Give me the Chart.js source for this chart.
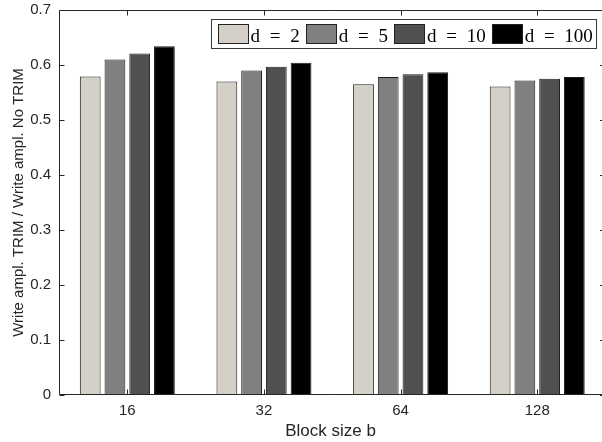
<!DOCTYPE html>
<html lang="en">
  <head>
    <script src="https://cdn.jsdelivr.net/npm/chart.js"></script>
    <meta charset="UTF-8" />
    <title>Write amplification TRIM / No TRIM</title>
    <style>
      body {
        margin: 0;
        background: #fff;
      }
      canvas {
        display: block;
      }
    </style>
  </head>
  <body>
    <canvas id="chart" width="602" height="442"></canvas>

    <script>
      // block sizes on the x axis
      const categories = ['16', '32', '64', '128'];
      const seriesLabels = ['d = 2', 'd = 5', 'd = 10', 'd = 100'];

      // ratio of write amplification, one array per d
      const d2 = [0.579, 0.570, 0.565, 0.561];
      const d5 = [0.610, 0.590, 0.578, 0.572];
      const d10 = [0.621, 0.597, 0.583, 0.575];
      const d100 = [0.634, 0.604, 0.587, 0.578];

      const yTicks = [0, 0.1, 0.2, 0.3, 0.4, 0.5, 0.6, 0.7];

      const colors = ['#d4d0c8', '#808080', '#505050', '#000000'];
      const axisColor = '#262626';

      const positions = categories.map((c, i) => i + 1);
      const allSeries = [d2, d5, d10, d100];

      const datasets = allSeries.map((vals, i) => ({
        label: seriesLabels[i],
        data: vals.map((v, j) => ({ x: positions[j], y: v })),
        backgroundColor: colors[i],
        borderColor: '#1e1e1e',
        borderWidth: 1,
        categoryPercentage: 0.724,
        barPercentage: 0.84
      }));

      // box around plot + inward ticks (matlab style)
      const frame = {
        id: 'frame',
        afterDatasetsDraw(chart) {
          const { ctx, chartArea, scales } = chart;
          const l = chartArea.left + 0.5, t = chartArea.top + 0.5;
          const b = chartArea.bottom - 0.5, r = chartArea.right;
          ctx.save();
          ctx.strokeStyle = axisColor;
          ctx.lineWidth = 1;
          ctx.beginPath();
          ctx.moveTo(r, t); ctx.lineTo(l, t); ctx.lineTo(l, b); ctx.lineTo(r, b);
          yTicks.forEach(v => {
            const y = Math.round(scales.y.getPixelForValue(v)) + 0.5;
            ctx.moveTo(l, y); ctx.lineTo(l + 5, y);
            ctx.moveTo(r - 2, y); ctx.lineTo(r, y);
          });
          positions.forEach(p => {
            const x = Math.round(scales.x.getPixelForValue(p)) + 0.5;
            ctx.moveTo(x, b); ctx.lineTo(x, b - 5);
            ctx.moveTo(x, t); ctx.lineTo(x, t + 5);
          });
          ctx.stroke();
          ctx.restore();
        }
      };

      // legend inside the axes, top right, with a box
      const legendBox = {
        id: 'legendBox',
        afterDraw(chart) {
          const { ctx, chartArea } = chart;
          ctx.save();
          ctx.font = '19px "Liberation Serif", serif';
          if ('wordSpacing' in ctx) ctx.wordSpacing = '5px';
          const sw = 30, sh = 19, padL = 6, gapT = 3, gapI = 6, padR = 4, h = 29;
          const items = chart.data.datasets.map(ds => ({
            label: ds.label,
            color: ds.backgroundColor,
            w: ctx.measureText(ds.label).width
          }));
          let total = padL + padR;
          items.forEach((it, i) => {
            total += sw + gapT + it.w + (i < items.length - 1 ? gapI : 0);
          });
          const right = Math.round(chartArea.right - 6) + 0.5;
          const top = chartArea.top + 9.5;
          const left = Math.round(right - total) + 0.5;
          ctx.fillStyle = '#fff';
          ctx.fillRect(left, top, right - left, h);
          ctx.strokeStyle = '#3a3a3a';
          ctx.lineWidth = 1;
          ctx.strokeRect(left, top, right - left, h);
          let x = left + padL;
          items.forEach(it => {
            const sx = Math.round(x) + 0.5;
            ctx.fillStyle = it.color;
            ctx.fillRect(sx, top + 5, sw, sh);
            ctx.strokeStyle = '#222';
            ctx.strokeRect(sx, top + 5, sw, sh);
            x += sw + gapT;
            ctx.fillStyle = '#000';
            ctx.textBaseline = 'alphabetic';
            ctx.fillText(it.label, x, top + 22);
            x += it.w + gapI;
          });
          ctx.restore();
        }
      };

      const tickFont = { family: '"Liberation Sans", Arial, sans-serif', size: 15 };

      new Chart(document.getElementById('chart'), {
        type: 'bar',
        data: { datasets: datasets },
        options: {
          responsive: false,
          animation: false,
          devicePixelRatio: 1,
          layout: { padding: { top: 10, right: 0, left: 0, bottom: 0 } },
          plugins: {
            legend: { display: false },
            tooltip: { enabled: false }
          },
          scales: {
            x: {
              type: 'linear',
              offset: false,
              min: 0.5,
              max: 4.474,
              grid: { display: false },
              border: { display: false },
              ticks: {
                color: axisColor,
                font: tickFont,
                padding: -1,
                autoSkip: false,
                maxRotation: 0,
                callback: v => categories[v - 1]
              },
              afterBuildTicks: scale => {
                scale.ticks = positions.map(p => ({ value: p }));
              },
              afterFit: scale => { scale.height = 47; },
              title: {
                display: true,
                text: 'Block size b',
                color: axisColor,
                font: { family: '"Liberation Sans", Arial, sans-serif', size: 17 },
                padding: { top: 0, bottom: 0 }
              }
            },
            y: {
              min: 0,
              max: 0.7,
              grid: { display: false },
              border: { display: false },
              ticks: {
                color: axisColor,
                font: tickFont,
                padding: 0,
                stepSize: 0.1,
                callback: v => (v === 0 ? '0' : v.toFixed(1))
              },
              afterBuildTicks: scale => {
                scale.ticks = yTicks.map(v => ({ value: v }));
              },
              afterFit: scale => { scale.width = 59; },
              title: {
                display: true,
                text: 'Write ampl. TRIM / Write ampl. No TRIM',
                color: axisColor,
                font: { family: '"Liberation Sans", Arial, sans-serif', size: 15 },
                padding: { top: 10, bottom: 0 }
              }
            }
          }
        },
        plugins: [frame, legendBox]
      });
    </script>
  </body>
</html>
